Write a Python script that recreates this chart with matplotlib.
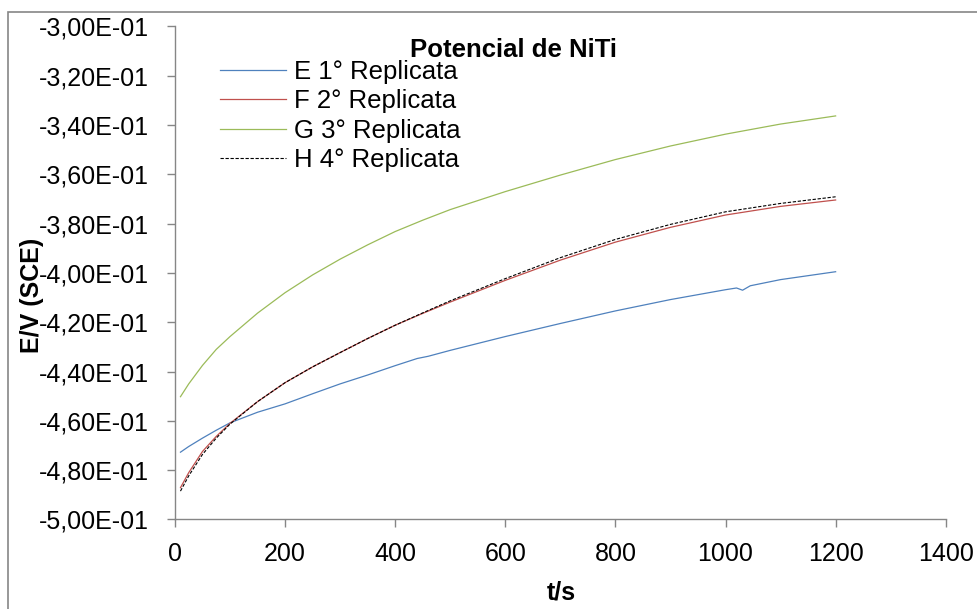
import matplotlib
matplotlib.use('Agg')
import matplotlib.pyplot as plt
from matplotlib.patches import Rectangle
from matplotlib.ticker import FuncFormatter

plt.rcParams['font.family'] = ['Liberation Sans', 'DejaVu Sans']

# time (s) and potential (V vs SCE)
t = [10, 25, 50, 75, 100, 150, 200, 250, 300, 350, 400, 450, 500,
     600, 700, 800, 900, 1000, 1100, 1200]
e1_t = [10, 25, 50, 75, 100, 150, 200, 250, 300, 350, 400, 440, 460, 500,
        600, 700, 800, 900, 1000, 1020, 1031, 1045, 1100, 1200]
e1 = [-0.4727, -0.4704, -0.4670, -0.4638, -0.4608, -0.4565, -0.4531, -0.4490,
      -0.4450, -0.4414, -0.4376, -0.4347, -0.4338, -0.4314, -0.4258, -0.4205,
      -0.4154, -0.4108, -0.4068, -0.4061, -0.4070, -0.4052, -0.4027, -0.3995]
f2 = [-0.4871, -0.4810, -0.4724, -0.4663, -0.4610, -0.4522, -0.4445, -0.4381,
      -0.4323, -0.4266, -0.4212, -0.4164, -0.4118, -0.4030, -0.3948, -0.3875,
      -0.3815, -0.3765, -0.3730, -0.3704]
g3 = [-0.4502, -0.4450, -0.4375, -0.4310, -0.4258, -0.4163, -0.4080, -0.4008,
      -0.3944, -0.3886, -0.3832, -0.3786, -0.3743, -0.3670, -0.3603, -0.3540,
      -0.3485, -0.3437, -0.3396, -0.3363]
h4 = [-0.4885, -0.4823, -0.4736, -0.4670, -0.4613, -0.4522, -0.4445, -0.4381,
      -0.4323, -0.4266, -0.4212, -0.4162, -0.4113, -0.4023, -0.3938, -0.3864,
      -0.3803, -0.3752, -0.3718, -0.3691]

fig = plt.figure(figsize=(9.78, 6.09), dpi=100)
ax = fig.add_axes([0.1789, 0.147, 0.967 - 0.1789, 0.9566 - 0.147])

ax.plot(e1_t, e1, color='#4F81BD', lw=0.9, label='E 1° Replicata')
ax.plot(t, f2, color='#C0504D', lw=0.9, label='F 2° Replicata')
ax.plot(t, g3, color='#9BBB59', lw=0.9, label='G 3° Replicata')
ax.plot(t, h4, color='black', lw=0.8, dashes=(3, 1.5), label='H 4° Replicata')

ax.set_xlim(0, 1400)
ax.set_ylim(-0.5, -0.3)
ax.set_xticks(range(0, 1401, 200))
ax.set_yticks([-0.5 + 0.02 * i for i in range(11)])
ax.yaxis.set_major_formatter(FuncFormatter(lambda v, p: f'{v:.2E}'.replace('.', ',')))

for s in ['top', 'right']:
    ax.spines[s].set_visible(False)
for s in ['left', 'bottom']:
    ax.spines[s].set_color('#868686')
    ax.spines[s].set_linewidth(1.0)
ax.tick_params(axis='both', colors='#868686', labelcolor='black', labelsize=18,
               length=6, width=1.0)
ax.tick_params(axis='y', pad=13)
ax.tick_params(axis='x', pad=10)

leg = ax.legend(loc='upper left', bbox_to_anchor=(0.058, 0.932), frameon=False,
                fontsize=18.5, handlelength=2.6, handletextpad=0.31,
                labelspacing=0.21, borderpad=0, borderaxespad=0)

fig.text(514 / 978, 1 - 56.7 / 609, 'Potencial de NiTi', ha='center', va='baseline',
         fontsize=18.5, fontweight='bold')
fig.text(561 / 978, 1 - 592 / 609, 't/s', ha='center', va='center',
         fontsize=18, fontweight='bold')
fig.text(32 / 978, 1 - 295 / 609, 'E/V (SCE)', ha='center', va='center',
         rotation=90, fontsize=18, fontweight='bold')

# chart area border (cut off at right and bottom)
fig.add_artist(Rectangle((8.3 / 978, -0.1), 1.2, 1.1 - 11.7 / 609,
                         transform=fig.transFigure, fill=False,
                         edgecolor='#868686', lw=1.2))

fig.savefig('out.png', dpi=100)
